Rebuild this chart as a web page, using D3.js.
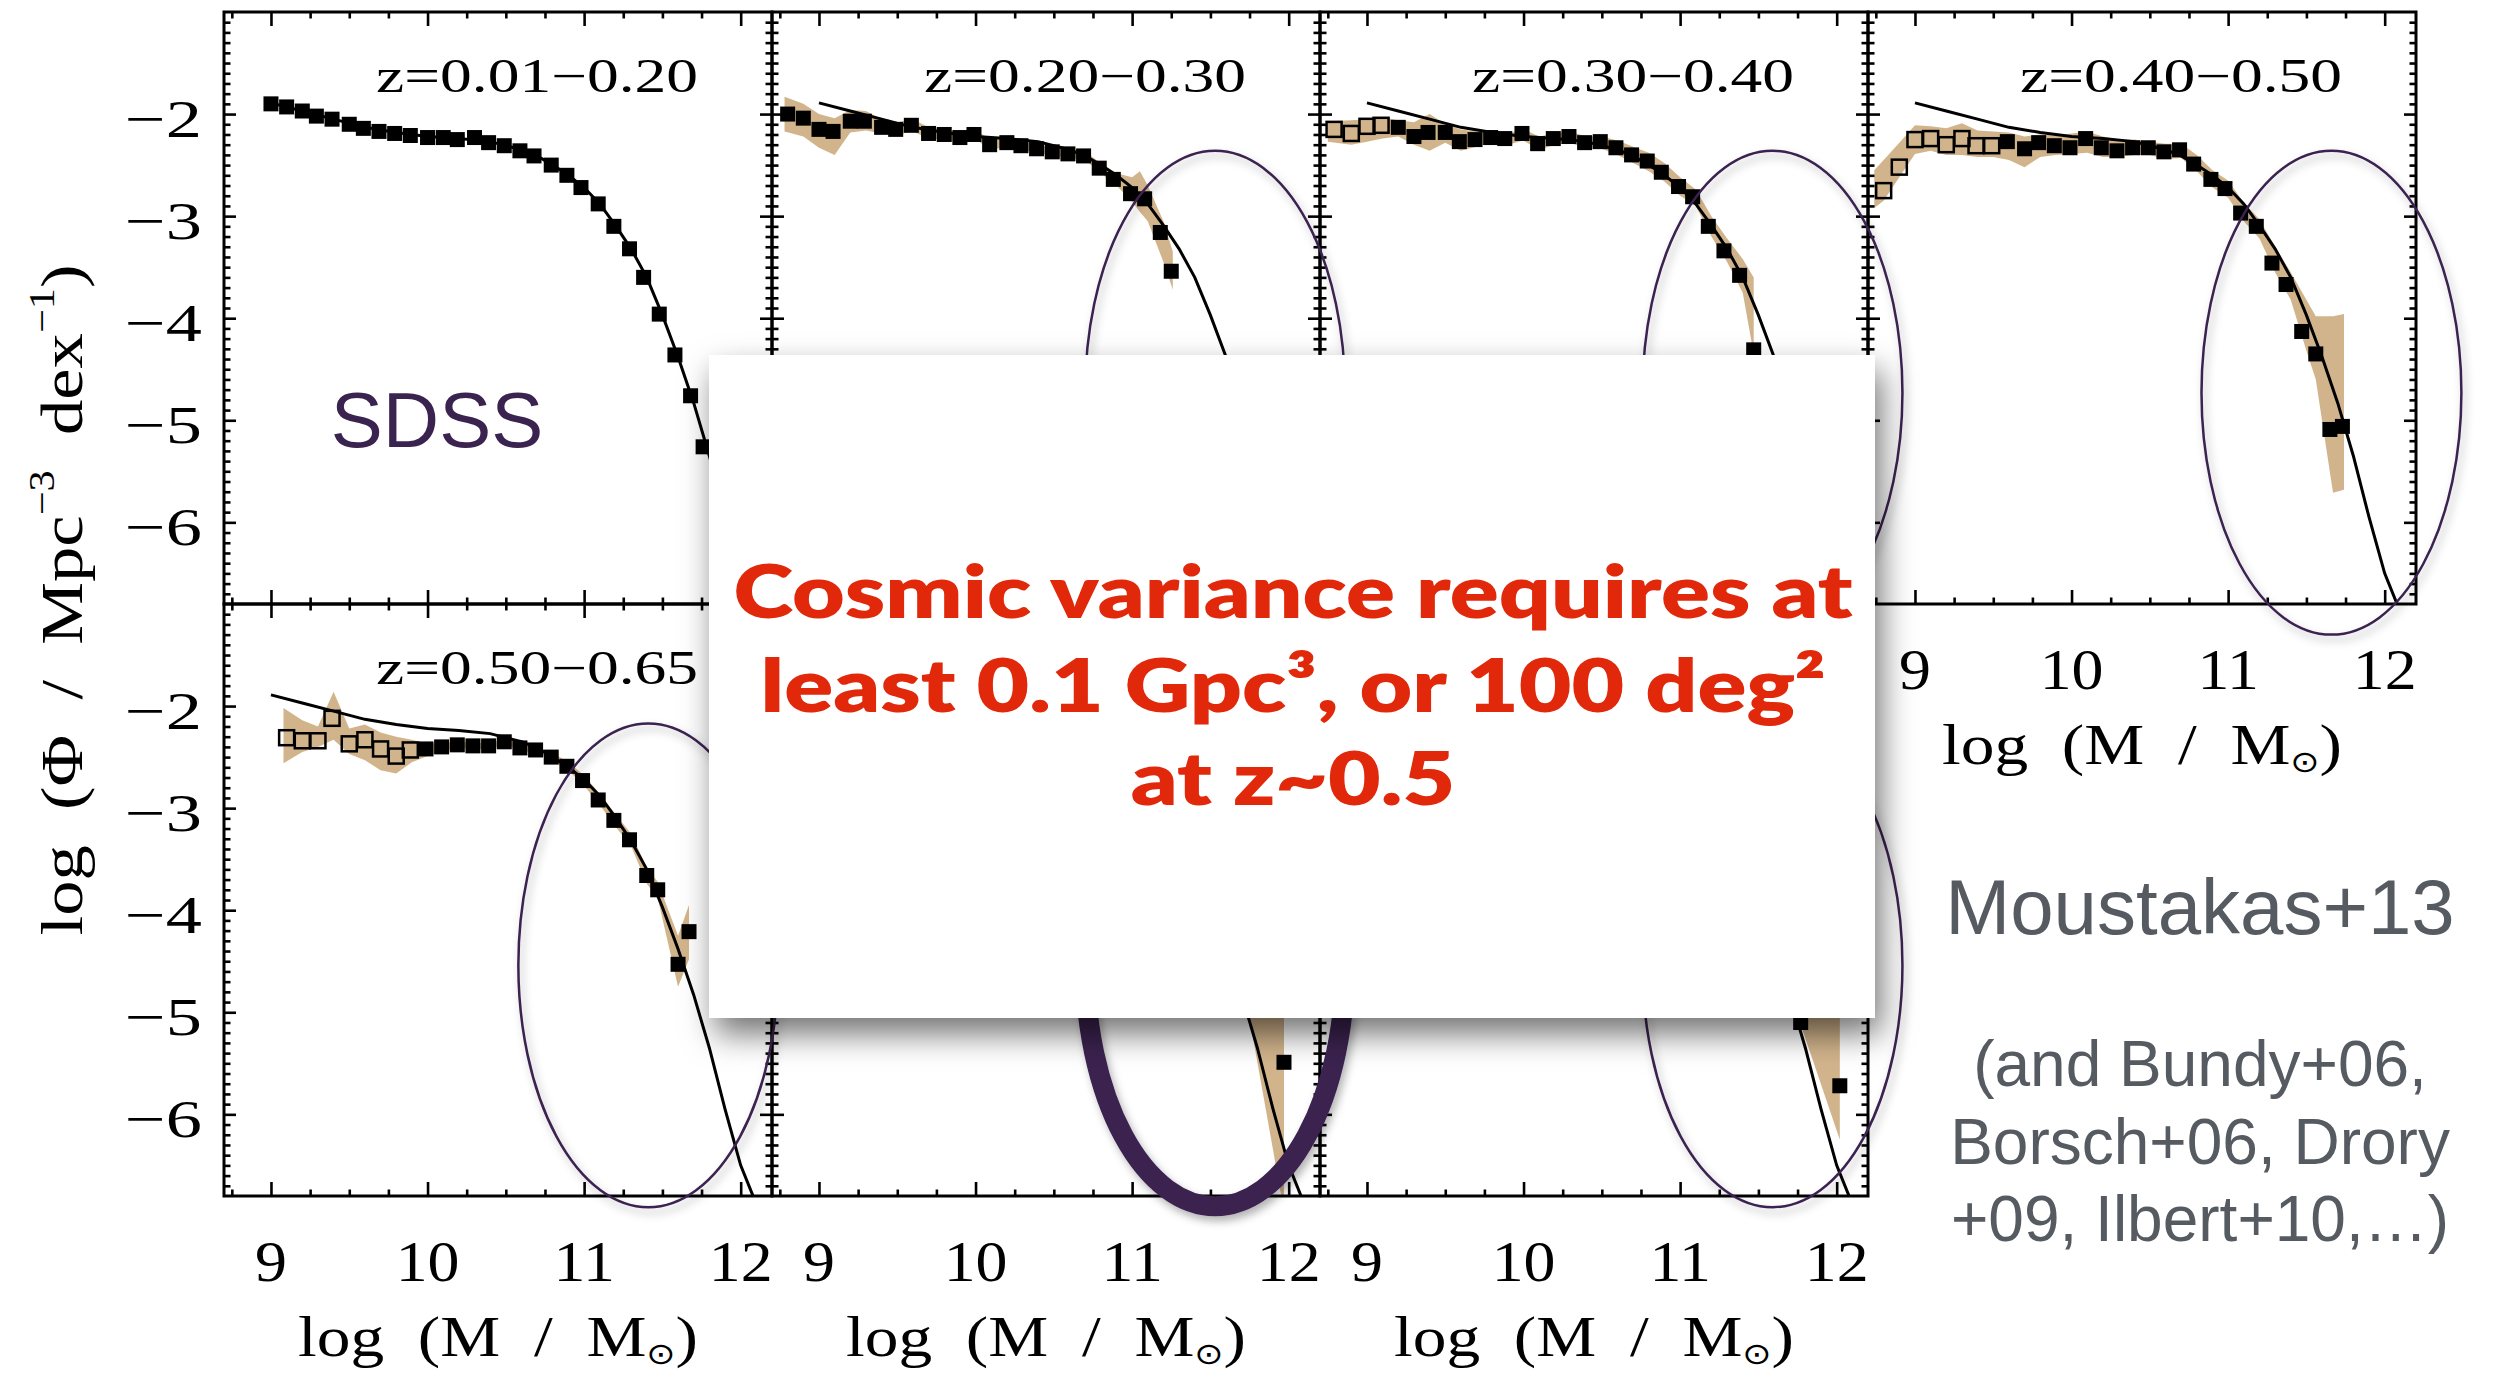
<!DOCTYPE html>
<html>
<head>
<meta charset="utf-8">
<script src="https://cdnjs.cloudflare.com/ajax/libs/d3/7.8.5/d3.min.js"></script>
<style>
  html, body { margin: 0; padding: 0; background: #fff; }
  svg { display: block; }
</style>
</head>
<body>
<script>
'use strict';

// ---------- values ----------
const zLabels = ["z=0.01−0.20", "z=0.20−0.30", "z=0.30−0.40", "z=0.40−0.50", "z=0.50−0.65", "", ""];
const xTickValues = [9, 10, 11, 12];
const xTickLabels = ["9", "10", "11", "12"];
const yTickValues = [-2, -3, -4, -5, -6];
const yTickLabels = ["−2", "−3", "−4", "−5", "−6"];

// SDSS reference curve (black line, same in every panel)
const sdssLineX = [9.0, 9.2, 9.4, 9.6, 9.8, 10.0, 10.2, 10.4, 10.6, 10.7, 10.8, 10.9, 11.0, 11.1, 11.2, 11.3, 11.4, 11.5, 11.6, 11.7, 11.8, 11.9, 12.0, 12.1];
const sdssLineY = [-1.89, -1.97, -2.05, -2.13, -2.18, -2.22, -2.24, -2.27, -2.35, -2.41, -2.50, -2.60, -2.72, -2.88, -3.09, -3.32, -3.60, -3.97, -4.38, -4.83, -5.35, -5.95, -6.50, -6.88];

// panel 1: z=0.01-0.20 (SDSS)
const p1X = [9.00, 9.10, 9.20, 9.29, 9.39, 9.50, 9.59, 9.69, 9.79, 9.89, 10.00, 10.10, 10.19, 10.30, 10.39, 10.49, 10.59, 10.68, 10.79, 10.89, 10.98, 11.09, 11.19, 11.29, 11.38, 11.48, 11.58, 11.68, 11.76];
const p1Y = [-1.90, -1.93, -1.97, -2.02, -2.05, -2.10, -2.14, -2.17, -2.19, -2.21, -2.23, -2.23, -2.25, -2.23, -2.28, -2.31, -2.36, -2.41, -2.50, -2.60, -2.72, -2.88, -3.10, -3.32, -3.60, -3.96, -4.36, -4.76, -5.26];

// panel 2: z=0.20-0.30
const p2X = [8.80, 8.90, 9.00, 9.09, 9.20, 9.29, 9.40, 9.49, 9.59, 9.70, 9.80, 9.90, 9.99, 10.09, 10.20, 10.29, 10.39, 10.49, 10.59, 10.69, 10.79, 10.88, 10.99, 11.08, 11.18, 11.25];
const p2Y = [-2.00, -2.04, -2.15, -2.17, -2.07, -2.07, -2.13, -2.15, -2.11, -2.19, -2.20, -2.23, -2.20, -2.30, -2.28, -2.31, -2.34, -2.37, -2.39, -2.41, -2.53, -2.64, -2.78, -2.83, -3.16, -3.54];
const p2BandX  = [8.78, 8.9, 9.0, 9.1, 9.2, 9.3, 9.4, 9.5, 9.6, 9.7, 9.8, 9.9, 10.0, 10.1, 10.2, 10.3, 10.4, 10.5, 10.6, 10.7, 10.8, 10.9, 11.0, 11.05, 11.1, 11.2, 11.26];
const p2BandHi = [-1.83, -1.90, -2.00, -2.04, -1.96, -1.97, -2.05, -2.08, -2.05, -2.13, -2.15, -2.18, -2.16, -2.25, -2.24, -2.27, -2.30, -2.33, -2.35, -2.37, -2.48, -2.58, -2.62, -2.56, -2.70, -3.05, -3.35];
const p2BandLo = [-2.17, -2.22, -2.33, -2.40, -2.18, -2.16, -2.19, -2.20, -2.17, -2.24, -2.25, -2.28, -2.25, -2.35, -2.32, -2.35, -2.38, -2.41, -2.43, -2.45, -2.58, -2.70, -2.86, -2.96, -3.05, -3.45, -3.72];

// panel 3: z=0.30-0.40 (first 4 open)
const p3X = [8.79, 8.90, 9.00, 9.09, 9.20, 9.30, 9.39, 9.50, 9.59, 9.69, 9.79, 9.88, 9.99, 10.09, 10.19, 10.29, 10.39, 10.49, 10.59, 10.69, 10.79, 10.88, 10.99, 11.08, 11.18, 11.28, 11.38, 11.47];
const p3Y = [-2.15, -2.19, -2.12, -2.11, -2.13, -2.22, -2.18, -2.18, -2.27, -2.25, -2.23, -2.24, -2.19, -2.29, -2.24, -2.22, -2.28, -2.27, -2.33, -2.40, -2.46, -2.57, -2.71, -2.81, -3.10, -3.34, -3.58, -4.31];
const p3BandX  = [8.75, 8.9, 9.0, 9.1, 9.2, 9.3, 9.4, 9.5, 9.6, 9.7, 9.8, 9.9, 10.0, 10.1, 10.2, 10.3, 10.4, 10.5, 10.6, 10.7, 10.8, 10.9, 11.0, 11.1, 11.2, 11.3, 11.4, 11.47];
const p3BandHi = [-2.07, -2.06, -2.05, -2.03, -2.06, -2.08, -2.00, -2.10, -2.15, -2.17, -2.18, -2.19, -2.15, -2.22, -2.19, -2.17, -2.22, -2.22, -2.26, -2.32, -2.38, -2.48, -2.62, -2.74, -3.00, -3.22, -3.42, -3.60];
const p3BandLo = [-2.27, -2.30, -2.27, -2.24, -2.22, -2.30, -2.36, -2.28, -2.36, -2.32, -2.28, -2.30, -2.26, -2.35, -2.30, -2.28, -2.34, -2.34, -2.40, -2.48, -2.56, -2.66, -2.80, -2.90, -3.20, -3.45, -3.75, -4.35];

// panel 4: z=0.40-0.50 (first 8 open)
const p4X = [8.80, 8.90, 9.00, 9.10, 9.20, 9.30, 9.39, 9.49, 9.59, 9.70, 9.79, 9.89, 9.99, 10.09, 10.19, 10.29, 10.39, 10.49, 10.59, 10.69, 10.78, 10.89, 10.98, 11.08, 11.18, 11.28, 11.37, 11.47, 11.56, 11.65, 11.73];
const p4Y = [-2.75, -2.52, -2.25, -2.24, -2.30, -2.24, -2.31, -2.31, -2.27, -2.34, -2.28, -2.31, -2.33, -2.24, -2.33, -2.36, -2.33, -2.33, -2.37, -2.35, -2.49, -2.64, -2.73, -2.97, -3.10, -3.46, -3.67, -4.13, -4.35, -5.09, -5.06];
const p4BandX  = [8.74, 8.8, 8.9, 9.0, 9.1, 9.2, 9.3, 9.4, 9.5, 9.6, 9.7, 9.8, 9.9, 10.0, 10.1, 10.2, 10.3, 10.4, 10.5, 10.6, 10.7, 10.8, 10.9, 11.0, 11.1, 11.2, 11.3, 11.4, 11.5, 11.56, 11.67, 11.74];
const p4BandHi = [-2.55, -2.45, -2.28, -2.11, -2.12, -2.14, -2.09, -2.16, -2.17, -2.18, -2.22, -2.20, -2.21, -2.19, -2.17, -2.22, -2.25, -2.25, -2.27, -2.29, -2.29, -2.40, -2.55, -2.65, -2.87, -3.03, -3.30, -3.55, -3.82, -3.98, -3.98, -3.96];
const p4BandLo = [-2.92, -2.85, -2.62, -2.39, -2.36, -2.40, -2.40, -2.42, -2.42, -2.45, -2.52, -2.42, -2.40, -2.39, -2.38, -2.42, -2.42, -2.40, -2.40, -2.44, -2.43, -2.56, -2.72, -2.82, -3.05, -3.22, -3.55, -3.82, -4.32, -4.60, -5.71, -5.68];

// panel 5: z=0.50-0.65 (first 9 open)
const p5X = [9.10, 9.20, 9.30, 9.39, 9.50, 9.60, 9.70, 9.80, 9.89, 9.99, 10.09, 10.19, 10.29, 10.39, 10.49, 10.59, 10.69, 10.79, 10.89, 10.99, 11.09, 11.19, 11.29, 11.40, 11.47, 11.60, 11.67];
const p5Y = [-2.31, -2.34, -2.34, -2.12, -2.37, -2.33, -2.42, -2.49, -2.43, -2.42, -2.40, -2.38, -2.39, -2.39, -2.35, -2.41, -2.43, -2.50, -2.59, -2.73, -2.92, -3.12, -3.31, -3.66, -3.80, -4.53, -4.21];
const p5BandX  = [9.08, 9.2, 9.3, 9.4, 9.5, 9.6, 9.7, 9.8, 9.9, 10.0, 10.1, 10.2, 10.3, 10.4, 10.5, 10.6, 10.7, 10.8, 10.9, 11.0, 11.1, 11.2, 11.3, 11.4, 11.47, 11.6, 11.67];
const p5BandHi = [-2.02, -2.14, -2.20, -1.86, -2.22, -2.18, -2.26, -2.30, -2.33, -2.37, -2.36, -2.35, -2.36, -2.36, -2.32, -2.38, -2.40, -2.46, -2.55, -2.68, -2.86, -3.06, -3.25, -3.58, -3.72, -4.25, -3.95];
const p5BandLo = [-2.56, -2.45, -2.40, -2.33, -2.47, -2.53, -2.63, -2.66, -2.55, -2.49, -2.44, -2.41, -2.42, -2.42, -2.38, -2.44, -2.46, -2.54, -2.63, -2.78, -2.97, -3.18, -3.37, -3.74, -3.88, -4.75, -4.48];

// panels 6 and 7: only the part below the text box is visible
const p6X = [11.97];
const p6Y = [-5.49];
const p6BandX  = [11.6, 11.75, 11.97];
const p6BandHi = [-4.3, -4.7, -4.9];
const p6BandLo = [-4.6, -5.06, -6.95];

const p7X = [11.77, 12.02];
const p7Y = [-5.10, -5.72];
const p7BandX  = [11.6, 11.77, 12.02];
const p7BandHi = [-4.3, -4.8, -4.9];
const p7BandLo = [-4.6, -5.12, -6.25];

// hand-drawn rings (centre in data units of the panel they sit on)
const ringPanel   = [1, 2, 3, 4, 5, 6];
const ringCenterX = [11.53, 11.59, 11.66, 11.41, 11.53, 11.59];
const ringCenterY = [-4.73, -4.73, -4.73, -4.54, -4.53, -4.54];

const boxLines = ["Cosmic variance requires at", "least 0.1 Gpc³, or 100 deg²", "at z~0.5"];
const refLines = ["(and Bundy+06,", "Borsch+06, Drory", "+09, Ilbert+10,…)"];

// ---------- layout ----------
const W = 2498, H = 1374;
const left0 = 224, panelW = 548;
const rowTop = [12, 604], rowH = 592;
const bandColor = "#d2b48c";
const ringColor = "#3a2150";

function zip3(a, b, c) { return a.map((v, i) => ({x: v, hi: b[i], lo: c[i]})); }
function zip2(a, b) { return a.map((v, i) => ({x: v, y: b[i]})); }

const panels = [
  {col: 0, row: 0, pts: zip2(p1X, p1Y), nOpen: 0, band: []},
  {col: 1, row: 0, pts: zip2(p2X, p2Y), nOpen: 0, band: zip3(p2BandX, p2BandHi, p2BandLo)},
  {col: 2, row: 0, pts: zip2(p3X, p3Y), nOpen: 4, band: zip3(p3BandX, p3BandHi, p3BandLo)},
  {col: 3, row: 0, pts: zip2(p4X, p4Y), nOpen: 8, band: zip3(p4BandX, p4BandHi, p4BandLo)},
  {col: 0, row: 1, pts: zip2(p5X, p5Y), nOpen: 9, band: zip3(p5BandX, p5BandHi, p5BandLo)},
  {col: 1, row: 1, pts: zip2(p6X, p6Y), nOpen: 0, band: zip3(p6BandX, p6BandHi, p6BandLo)},
  {col: 2, row: 1, pts: zip2(p7X, p7Y), nOpen: 0, band: zip3(p7BandX, p7BandHi, p7BandLo)}
];
panels.forEach((p, i) => {
  p.label = zLabels[i];
  p.x = d3.scaleLinear().domain([8.7, 12.2]).range([left0 + p.col * panelW, left0 + (p.col + 1) * panelW]);
  p.y = d3.scaleLinear().domain([-6.8, -1.0]).range([rowTop[p.row] + rowH, rowTop[p.row]]);
});

const svg = d3.select("body").append("svg").attr("width", W).attr("height", H);
svg.append("rect").attr("width", W).attr("height", H).attr("fill", "#fff");

// filters for the slide-style shadows
const defs = svg.append("defs");
const fBox = defs.append("filter").attr("id", "boxShadow")
  .attr("x", "-10%").attr("y", "-10%").attr("width", "125%").attr("height", "135%");
fBox.append("feDropShadow").attr("dx", 6).attr("dy", 16).attr("stdDeviation", 16)
  .attr("flood-color", "#000").attr("flood-opacity", 0.55);
const fRing = defs.append("filter").attr("id", "ringShadow")
  .attr("x", "-20%").attr("y", "-20%").attr("width", "140%").attr("height", "140%");
fRing.append("feDropShadow").attr("dx", 3).attr("dy", 5).attr("stdDeviation", 4)
  .attr("flood-color", "#000").attr("flood-opacity", 0.3);

// text stretched along its own direction, the way the slide squeezed the figure
function stretchText(parent, opt, build) {
  const g = parent.append("g").attr("transform", `translate(${opt.x},${opt.y}) rotate(${opt.rotate || 0})`);
  const t = g.append("text")
    .attr("text-anchor", opt.anchor || "start")
    .style("font-family", opt.family || "'Liberation Serif', serif")
    .style("font-size", opt.size + "px")
    .style("font-weight", opt.weight || 400)
    .style("white-space", "pre")
    .attr("fill", opt.fill || "#000");
  build(t);
  let sx = opt.scale || 1;
  if (opt.width) sx = opt.width / t.node().getBBox().width;
  t.attr("transform", `scale(${sx},1)`);
  return t;
}

const lineGen = (p) => d3.line().x(d => p.x(d.x)).y(d => p.y(d.y));
const areaGen = (p) => d3.area().x(d => p.x(d.x)).y0(d => p.y(d.lo)).y1(d => p.y(d.hi));
const sdss = zip2(sdssLineX, sdssLineY);

const xMinor = d3.range(35, 49).map(v => v / 4).filter(v => v % 1 !== 0);
const yMinor = d3.range(-67, -10).map(v => v / 10).filter(v => Math.abs(v % 1) > 1e-6);

// ---------- panels ----------
panels.forEach((p, i) => {
  const [x0, x1] = p.x.range();
  const [yb, yt] = p.y.range();
  const g = svg.append("g");

  defs.append("clipPath").attr("id", "clip" + i)
    .append("rect").attr("x", x0).attr("y", yt).attr("width", x1 - x0).attr("height", yb - yt);
  const plot = g.append("g").attr("clip-path", `url(#clip${i})`);

  if (p.band.length) {
    plot.append("path").datum(p.band).attr("d", areaGen(p)).attr("fill", bandColor);
  }
  plot.append("path").datum(sdss).attr("d", lineGen(p))
    .attr("fill", "none").attr("stroke", "#000").attr("stroke-width", 3);

  const s = 15;
  plot.selectAll("rect.pt").data(p.pts).enter().append("rect")
    .attr("class", "pt")
    .attr("x", d => p.x(d.x) - s / 2).attr("y", d => p.y(d.y) - s / 2)
    .attr("width", s).attr("height", s)
    .attr("fill", (d, k) => k < p.nOpen ? "none" : "#000")
    .attr("stroke", (d, k) => k < p.nOpen ? "#000" : "none")
    .attr("stroke-width", 2.5);

  // IDL-style frame: ticks on all four sides, pointing in
  const axes = [
    [d3.axisBottom(p.x), `translate(0,${yb})`, xTickValues, xMinor, 14, 6.5],
    [d3.axisTop(p.x), `translate(0,${yt})`, xTickValues, xMinor, 14, 6.5],
    [d3.axisLeft(p.y), `translate(${x0},0)`, yTickValues, yMinor, 12, 6.5],
    [d3.axisRight(p.y), `translate(${x1},0)`, yTickValues, yMinor, 12, 6.5]
  ];
  axes.forEach(([ax, tr, major, minor, big, small]) => {
    [[major, big], [minor, small]].forEach(([vals, len]) => {
      const a = ax.tickValues(vals).tickSize(-len).tickFormat("");
      g.append("g").attr("transform", tr).call(a)
        .call(gg => gg.select(".domain").remove())
        .call(gg => gg.selectAll("text").remove())
        .call(gg => gg.selectAll("line").attr("stroke", "#000").attr("stroke-width", 2.6));
    });
  });
  g.append("rect").attr("x", x0).attr("y", yt).attr("width", x1 - x0).attr("height", yb - yt)
    .attr("fill", "none").attr("stroke", "#000").attr("stroke-width", 3);

  if (p.label) {
    stretchText(g, {x: x1 - 74, y: yt + 80, anchor: "end", size: 48, width: 322}, t => t.text(p.label));
  }

  // y tick labels on the left column
  if (p.col === 0) {
    yTickValues.forEach((v, k) => {
      stretchText(g, {x: x0 - 22, y: p.y(v) + 23, anchor: "end", size: 53, width: 77}, t => t.text(yTickLabels[k]));
    });
  }
  // x tick labels and title on the panels that have nothing below them
  if (p.row === 1 || p.col === 3) {
    xTickValues.forEach((v, k) => {
      stretchText(g, {x: p.x(v), y: yb + 85, anchor: "middle", size: 56, scale: 1.14}, t => t.text(xTickLabels[k]));
    });
    stretchText(g, {x: (x0 + x1) / 2, y: yb + 160, anchor: "middle", size: 58, width: 400}, t => {
      t.append("tspan").text("log  (M  /  M");
      t.append("tspan").text("⊙").style("font-family", "'DejaVu Sans', sans-serif")
        .style("font-size", "30px").attr("dy", 8);
      t.append("tspan").text(")").attr("dy", -8);
    });
  }
});

// y axis title
stretchText(svg, {x: 82, y: 600, rotate: -90, anchor: "middle", size: 60, width: 671}, t => {
  t.append("tspan").text("log  (Φ  /  Mpc");
  t.append("tspan").text("−3").style("font-size", "36px").attr("dy", -28);
  t.append("tspan").text("  dex").attr("dy", 28);
  t.append("tspan").text("−1").style("font-size", "36px").attr("dy", -28);
  t.append("tspan").text(")").attr("dy", 28);
});

// ---------- annotations ----------
const rings = svg.append("g");
ringPanel.forEach((pi, k) => {
  const p = panels[pi];
  const cx = p.x(ringCenterX[k]), cy = p.y(ringCenterY[k]);
  const rx = p.x(ringCenterX[k] + 0.83) - cx;
  const ry = p.y(ringCenterY[k] - 2.37) - cy;
  const thick = pi === 5;
  rings.append("ellipse")
    .attr("cx", cx).attr("cy", cy).attr("rx", rx).attr("ry", ry)
    .attr("fill", "none").attr("stroke", ringColor)
    .attr("stroke-width", thick ? 20 : 2.5)
    .attr("filter", "url(#ringShadow)");
});

svg.append("text").attr("x", 437).attr("y", 447).attr("text-anchor", "middle")
  .style("font-family", "'Liberation Sans', Arial, sans-serif").style("font-size", "78px")
  .attr("fill", "#3b2350").text("SDSS");

svg.append("text").attr("x", 2200).attr("y", 934).attr("text-anchor", "middle")
  .style("font-family", "'Liberation Sans', Arial, sans-serif").style("font-size", "78px")
  .attr("fill", "#565b62").text("Moustakas+13");

refLines.forEach((s, k) => {
  svg.append("text").attr("x", 2200).attr("y", 1086 + k * 77.5).attr("text-anchor", "middle")
    .style("font-family", "'Liberation Sans', Arial, sans-serif").style("font-size", "64px")
    .attr("fill", "#565b62").text(s);
});

// white call-out box on top; wide bold face, widened to the slide's line length
const box = svg.append("g");
box.append("rect").attr("x", 709).attr("y", 355).attr("width", 1166).attr("height", 663)
  .attr("fill", "#fff").attr("filter", "url(#boxShadow)");
const boxBase = [618, 712, 805];
const boxText = boxLines.map((s, k) => stretchText(box,
  {x: 1293, y: boxBase[k], anchor: "middle", size: 74, weight: 800,
   family: "Lato, 'Open Sans', sans-serif", fill: "#e1280a"}, t => t.text(s)));
const sBox = 1120 / boxText[0].node().getBBox().width;
boxText.forEach(t => t.attr("transform", `scale(${sBox},1)`));
</script>
</body>
</html>
